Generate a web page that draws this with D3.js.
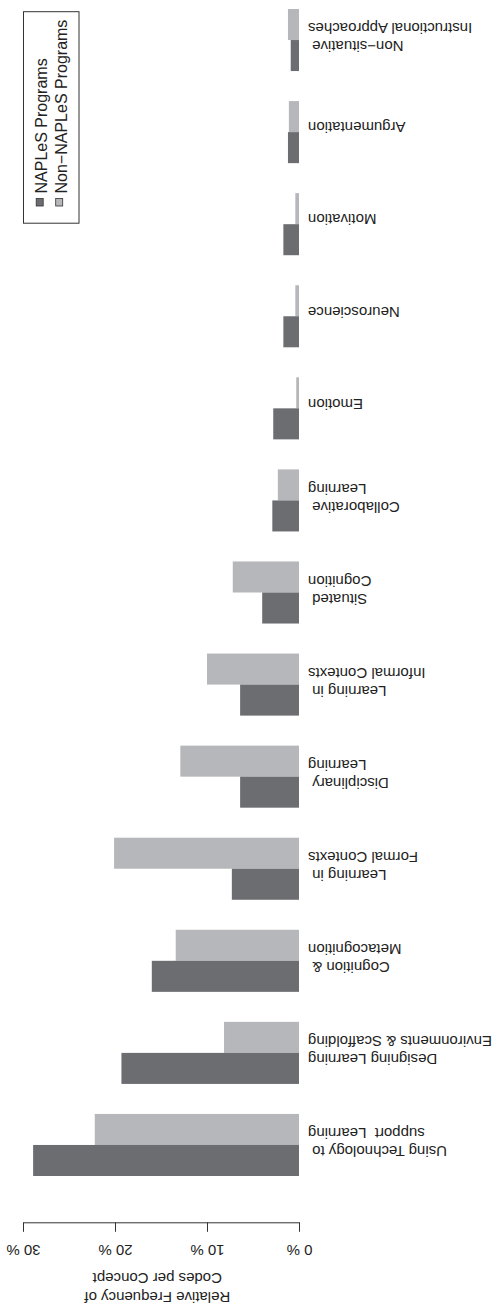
<!DOCTYPE html>
<html>
<head>
<meta charset="utf-8">
<script src="https://cdn.jsdelivr.net/npm/d3@7"></script>
<style>
  html, body { margin: 0; padding: 0; background: #ffffff; }
  svg { display: block; }
  text { font-family: "Liberation Sans", Arial, Helvetica, sans-serif; fill: #222; }
</style>
</head>
<body>
<svg id="chart" width="497" height="1309"></svg>
<script>
// Categories listed top-to-bottom as they appear in the (upside-down) picture
const categories = [
  "Non−situative \nInstructional Approaches",
  "Argumentation",
  "Motivation",
  "Neuroscience",
  "Emotion",
  "Collaborative \nLearning",
  "Situated \nCognition",
  "Learning in \nInformal Contexts",
  "Disciplinary \nLearning",
  "Learning in \nFormal Contexts",
  "Cognition & \nMetacognition",
  "Designing Learning\nEnvironments & Scaffolding",
  "Using Technology to \nsupport  Learning"
];
const naplesValues    = [0.9, 1.2, 1.7, 1.7, 2.8, 2.9, 4.0, 6.4, 6.4, 7.3, 16.0, 19.3, 28.9];
const nonNaplesValues = [1.2, 1.1, 0.4, 0.4, 0.3, 2.3, 7.2, 10.0, 12.9, 20.1, 13.4, 8.15, 22.2];
const seriesNames = ["NAPLeS Programs", "Non−NAPLeS Programs"];
const tickValues = [0, 10, 20, 30];
const tickLabels = ["0 %", "10 %", "20 %", "30 %"];
const axisTitle = ["Relative Frequency of", "Codes per Concept"];

const colors = { dark: "#6c6d71", light: "#b6b7ba" };

const svg = d3.select("#chart");

const x = d3.scaleLinear().domain([0, 30]).range([299, 23]);
const y = d3.scaleBand().domain(categories).range([9, 1176]).paddingInner(0.326).paddingOuter(0);
const sub = d3.scaleBand().domain(["non", "naples"]).range([0, y.bandwidth()]);

const rows = categories.map((c, i) => ({ c, naples: naplesValues[i], non: nonNaplesValues[i] }));

// bars
const g = svg.append("g");
rows.forEach(r => {
  g.append("rect")
    .attr("x", x(r.non)).attr("width", x(0) - x(r.non))
    .attr("y", y(r.c) + sub("non")).attr("height", sub.bandwidth())
    .attr("fill", colors.light);
  g.append("rect")
    .attr("x", x(r.naples)).attr("width", x(0) - x(r.naples))
    .attr("y", y(r.c) + sub("naples")).attr("height", sub.bandwidth())
    .attr("fill", colors.dark);
});

// category labels (rotated 180°)
rows.forEach(r => {
  const lines = r.c.split("\n");
  const center = y(r.c) + y.bandwidth() / 2;
  const offsets = lines.length === 1 ? [-9.7] : [1.2, -16.8];
  lines.forEach((ln, k) => {
    svg.append("text")
      .attr("transform", `translate(308,${center + offsets[k]}) rotate(180)`)
      .attr("text-anchor", "end")
      .style("white-space", "pre")
      .attr("font-size", 15)
      .text(ln);
  });
});

// axis
const axis = d3.axisBottom(x).tickValues(tickValues).tickSize(9.5).tickSizeOuter(0)
  .tickFormat((d, i) => tickLabels[i]);
const ax = svg.append("g").attr("transform", "translate(0,1222.3)").call(axis);
ax.select(".domain").attr("stroke", "#333").attr("stroke-width", 1);
ax.selectAll(".tick line").attr("stroke", "#333").attr("stroke-width", 1);
ax.selectAll(".tick text")
  .attr("y", null).attr("dy", null)
  .attr("transform", "translate(0,23) rotate(180)")
  .attr("text-anchor", "middle")
  .attr("font-size", 15)
  .attr("font-family", '"Liberation Sans", Arial, sans-serif')
  .attr("fill", "#222");

// axis title
const titleX = x(15.4);
svg.append("text")
  .attr("transform", `translate(${titleX},1291.7) rotate(180)`)
  .attr("text-anchor", "middle").attr("font-size", 15).text(axisTitle[0]);
svg.append("text")
  .attr("transform", `translate(${titleX},1273.3) rotate(180)`)
  .attr("text-anchor", "middle").attr("font-size", 15).text(axisTitle[1]);

// legend
svg.append("rect")
  .attr("x", 23.5).attr("y", 11.7).attr("width", 55.5).attr("height", 211.5)
  .attr("fill", "none").attr("stroke", "#333").attr("stroke-width", 1);
const legCols = [colors.dark, colors.light];
const legX = [47.3, 66.7];
const sqX = [35.7, 55.2];
seriesNames.forEach((name, i) => {
  svg.append("rect")
    .attr("x", sqX[i] + 0.5).attr("y", 198.5).attr("width", 7).attr("height", 7.5)
    .attr("fill", legCols[i]).attr("stroke", "#333").attr("stroke-width", 0.8);
  svg.append("text")
    .attr("transform", `translate(${legX[i]},193.5) rotate(-90)`)
    .attr("text-anchor", "start").attr("font-size", 16).text(name);
});
</script>
</body>
</html>
